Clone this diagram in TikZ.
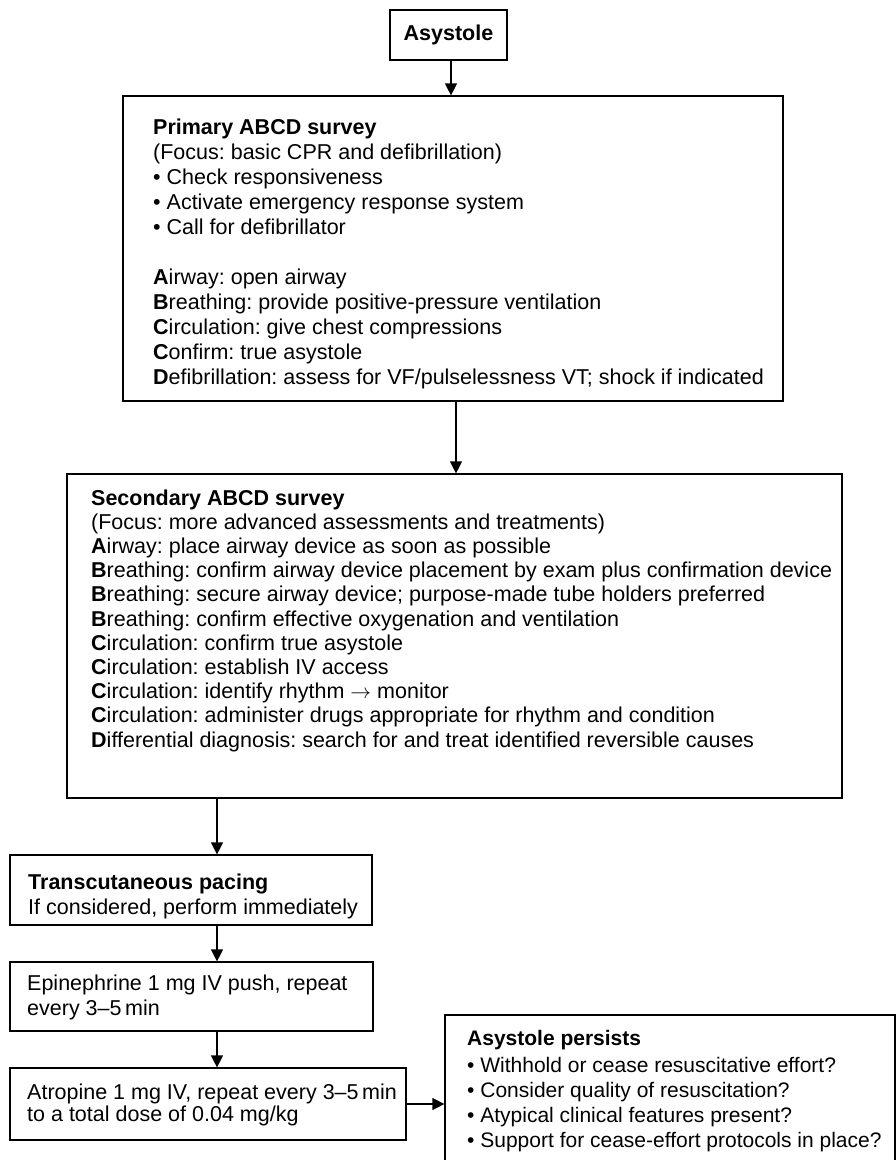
\documentclass[tikz,border=0pt]{standalone}
\usepackage{fontspec}
\setmainfont{Liberation Sans}
\usetikzlibrary{arrows.meta}
\begin{document}
\frenchspacing
\begin{tikzpicture}[x=1pt,y=-1pt,
  box/.style={draw, line width=1.2pt, inner sep=0pt, rectangle},
  txt/.style={inner sep=0pt, anchor=base west, font=\fontsize{21.5}{25}\selectfont},
  txs/.style={txt, font=\fontsize{21}{25}\selectfont},
  arr/.style={line width=1.2pt, -{Triangle[length=12pt,width=12pt]}}]
\useasboundingbox (0,0) rectangle (896,1160);
% boxes
\node[box, minimum width=117pt, minimum height=50pt] (ast) at (448.5,35) {};
\node[box, minimum width=660pt, minimum height=305pt] (prim) at (453,248.5) {};
\node[box, minimum width=775pt, minimum height=324pt] (sec) at (454.5,636) {};
\node[box, minimum width=362pt, minimum height=70pt] (trans) at (191,890) {};
\node[box, minimum width=363pt, minimum height=69pt] (epi) at (191.5,996.5) {};
\node[box, minimum width=396pt, minimum height=72pt] (atro) at (208,1104) {};
\node[box, minimum width=450pt, minimum height=155pt] (pers) at (670,1092.5) {};
% texts
\node[txt, anchor=center] (astt) at (448.5,35) {\textbf{Asystole}};
\node[txt] (p1) at (153,134) {\textbf{Primary ABCD survey}};
\node[txt] (p2) at (153,159) {(Focus: basic CPR and defibrillation)};
\node[txt] (p3) at (153,184) {• Check responsiveness};
\node[txt] (p4) at (153,209) {• Activate emergency response system};
\node[txt] (p5) at (153,234) {• Call for defibrillator};
\node[txt] (p6) at (153,284) {\textbf{A}irway: open airway};
\node[txt] (p7) at (153,309) {\textbf{B}reathing: provide positive-pressure ventilation};
\node[txt] (p8) at (153,334) {\textbf{C}irculation: give chest compressions};
\node[txt] (p9) at (153,359) {\textbf{C}onfirm: true asystole};
\node[txt] (p10) at (153,384) {\textbf{D}efibrillation: assess for VF/pulselessness VT; shock if indicated};
\node[txt] (s1) at (91,505) {\textbf{Secondary ABCD survey}};
\node[txt] (s2) at (91,529.2) {(Focus: more advanced assessments and treatments)};
\node[txt] (s3) at (91,553.4) {\textbf{A}irway: place airway device as soon as possible};
\node[txt] (s4) at (91,577.6) {\textbf{B}reathing: confirm airway device placement by exam plus confirmation device};
\node[txt] (s5) at (91,601.8) {\textbf{B}reathing: secure airway device; purpose-made tube holders preferred};
\node[txt] (s6) at (91,626) {\textbf{B}reathing: confirm effective oxygenation and ventilation};
\node[txt] (s7) at (91,650.2) {\textbf{C}irculation: confirm true asystole};
\node[txt] (s8) at (91,674.4) {\textbf{C}irculation: establish IV access};
\node[txt] (s9) at (91,698.6) {\textbf{C}irculation: identify rhythm $\rightarrow$ monitor};
\node[txt] (s10) at (91,722.8) {\textbf{C}irculation: administer drugs appropriate for rhythm and condition};
\node[txt] (s11) at (91,747) {\textbf{D}ifferential diagnosis: search for and treat identified reversible causes};
\node[txt] (t1) at (28,889) {\textbf{Transcutaneous pacing}};
\node[txt] (t2) at (28,914) {If considered, perform immediately};
\node[txt] (e1) at (27,990) {Epinephrine 1 mg IV push, repeat};
\node[txt] (e2) at (27,1015) {every 3–5\,min};
\node[txt] (a1) at (27,1099) {Atropine 1 mg IV, repeat every 3–5\,min};
\node[txt] (a2) at (27,1121) {to a total dose of 0.04 mg/kg};
\node[txs] (q1) at (467,1045) {\textbf{Asystole persists}};
\node[txs] (q2) at (467,1072) {• Withhold or cease resuscitative effort?};
\node[txs] (q3) at (467,1097) {• Consider quality of resuscitation?};
\node[txs] (q4) at (467,1122) {• Atypical clinical features present?};
\node[txs] (q5) at (467,1147) {• Support for cease-effort protocols in place?};
% connectors
\coordinate (xa) at (451,0);
\coordinate (xb) at (456,0);
\coordinate (xc) at (217,0);
\draw[arr] (ast.south -| xa) -- (prim.north -| xa);
\draw[arr] (prim.south -| xb) -- (sec.north -| xb);
\draw[arr] (sec.south -| xc) -- (trans.north -| xc);
\draw[arr] (trans.south -| xc) -- (epi.north -| xc);
\draw[arr] (epi.south -| xc) -- (atro.north -| xc);
\draw[arr] (atro.east) -- (pers.west |- atro.east);
\end{tikzpicture}
\end{document}
